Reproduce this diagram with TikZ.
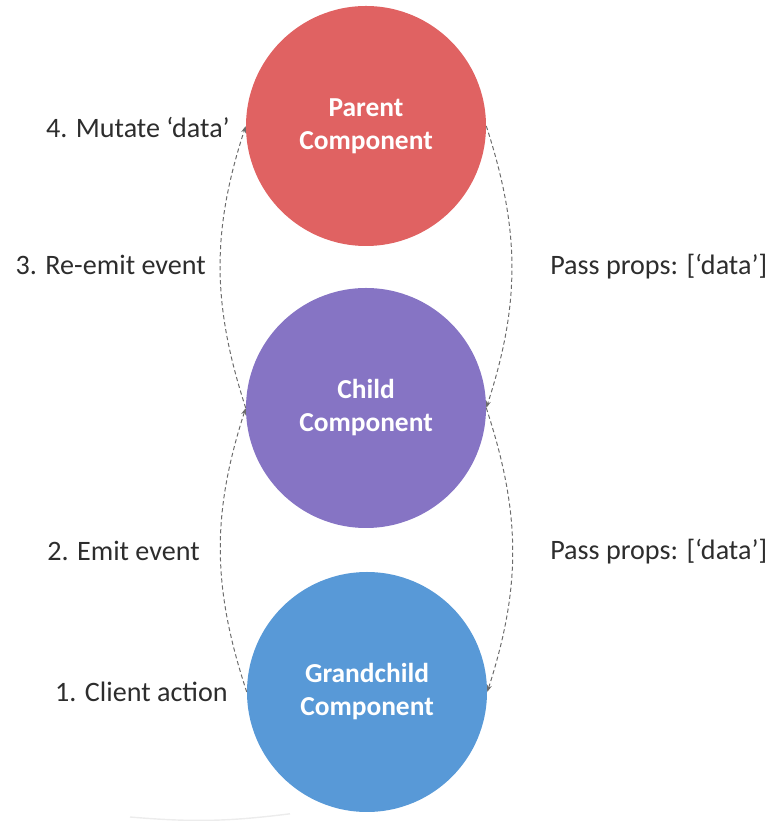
\documentclass[tikz,border=0pt]{standalone}
\usepackage{fontspec}
\setmainfont{Carlito}
\usetikzlibrary{arrows.meta}

\definecolor{parentred}{RGB}{224,98,98}
\definecolor{childpurple}{RGB}{134,116,196}
\definecolor{grandblue}{RGB}{88,153,215}
\definecolor{labelgray}{RGB}{45,45,45}

\begin{document}
\begin{tikzpicture}[
  comp/.style={circle,minimum size=6cm,inner sep=0pt,text=white,align=center,
    font=\fontsize{19.5}{23.5}\selectfont\bfseries},
  lbl/.style={text=labelgray,font=\fontsize{20}{24}\selectfont,inner sep=0pt},
  flow/.style={gray!85!black,line width=0.7pt,dash pattern=on 3pt off 2pt,
    -{Stealth[length=5pt,width=3.5pt]},bend left=18}
]
\useasboundingbox (0,0) rectangle (19.35,20.525);
% components
\node[comp,fill=parentred] (parent) at (9.15,17.375) {Parent\\Component};
\node[comp,fill=childpurple] (child) at (9.15,10.325) {Child\\Component};
\node[comp,fill=grandblue] (grand) at (9.175,3.225) {Grandchild\\Component};
% labels left
\node[lbl,anchor=east] (mutate) at (5.75,17.35) {4. Mutate ‘data’};
\node[lbl,anchor=east] (reemit) at (5.15,13.9) {3. Re-emit event};
\node[lbl,anchor=east] (emit) at (5.0,6.75) {2. Emit event};
\node[lbl,anchor=east] (client) at (5.7,3.225) {1. Client action};
% labels right
\node[lbl,anchor=west] (props1) at (13.75,13.85) {Pass props: [‘data’]};
\node[lbl,anchor=west] (props2) at (13.75,6.725) {Pass props: [‘data’]};
% events up
\draw[flow] (grand.west) to (child.west);
\draw[flow] (child.west) to (parent.west);
% props down
\draw[flow] (parent.east) to (child.east);
\draw[flow] (child.east) to (grand.east);
% faint reflection
\draw[gray!15,line width=1pt] (3.25,0.1) to[bend right=6] (7.25,0.18);
\end{tikzpicture}
\end{document}
